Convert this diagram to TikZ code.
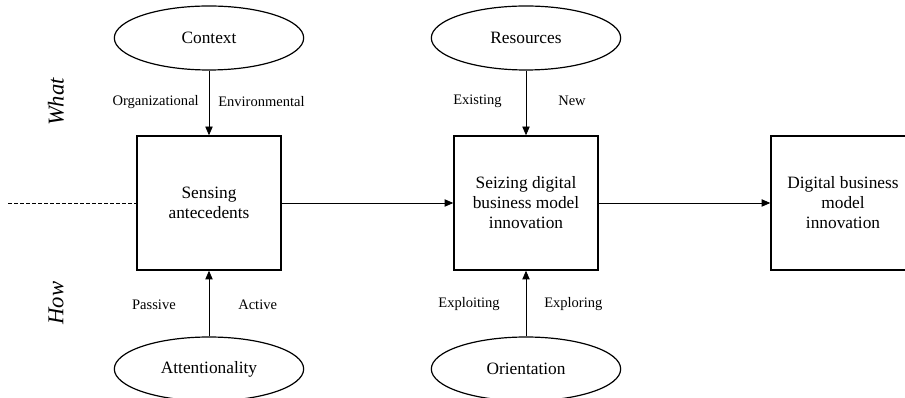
\documentclass[tikz,border=0pt]{standalone}
\usepackage{fontspec}
\setmainfont{Liberation Serif}
\usetikzlibrary{arrows.meta,shapes.geometric}
\begin{document}
\begin{tikzpicture}[x=0.75pt,y=-0.75pt,
  blockbox/.style={draw, line width=1.1pt, minimum width=108pt, minimum height=100.5pt,
    inner sep=0pt, align=center, font=\fontsize{13}{15}\selectfont},
  oval/.style={draw, ellipse, line width=0.9pt, minimum width=142pt, minimum height=48pt,
    inner sep=0pt, font=\fontsize{13}{15}\selectfont},
  conn/.style={line width=0.6pt, -{Triangle[length=6.5pt,width=5.5pt]}},
  edgelabel/.style={inner sep=0pt, font=\fontsize{10.9}{13}\selectfont},
  sidelabel/.style={inner sep=0pt, rotate=90, font=\fontsize{17}{20}\selectfont\itshape}]
\useasboundingbox (0,0) rectangle (905,398);
\clip (0,0) rectangle (905,398);

% dimension labels on the left
\node[sidelabel] (what) at (56,102) {What};
\node[sidelabel] (how) at (56,303) {How};

% process blocks
\node[blockbox] (sense) at (209,203) {Sensing\\antecedents};
\node[blockbox] (seize) at (526,203) {Seizing digital\\business model\\innovation};
\node[blockbox] (dbmi) at (843,203) {Digital business\\model\\innovation};

% influencing factors
\node[oval] (context) at (209,38) {Context};
\node[oval] (resources) at (526,38) {Resources};
\node[oval] (attention) at (209,369) {Attentionality};
\node[oval] (orient) at (526,369) {Orientation};

% connectors
\coordinate (lead) at (8,203);
\draw[line width=0.6pt, dash pattern=on 3pt off 1.5pt] (lead) -- (sense.west);
\draw[conn] (sense) -- (seize);
\draw[conn] (seize) -- (dbmi);
\draw[conn] (context) -- (sense);
\draw[conn] (resources) -- (seize);
\draw[conn] (attention) -- (sense);
\draw[conn] (orient) -- (seize);

% connector labels
\node[edgelabel, anchor=east] (org) at (199,102) {Organizational};
\node[edgelabel, anchor=west] (env) at (218,102) {Environmental};
\node[edgelabel, anchor=east] (exist) at (502,101) {Existing};
\node[edgelabel, anchor=west] (new) at (558,101) {New};
\node[edgelabel, anchor=east] (passive) at (176,305) {Passive};
\node[edgelabel, anchor=west] (active) at (238,305) {Active};
\node[edgelabel, anchor=east] (exploit) at (500,304) {Exploiting};
\node[edgelabel, anchor=west] (explore) at (544,304) {Exploring};
\end{tikzpicture}
\end{document}
